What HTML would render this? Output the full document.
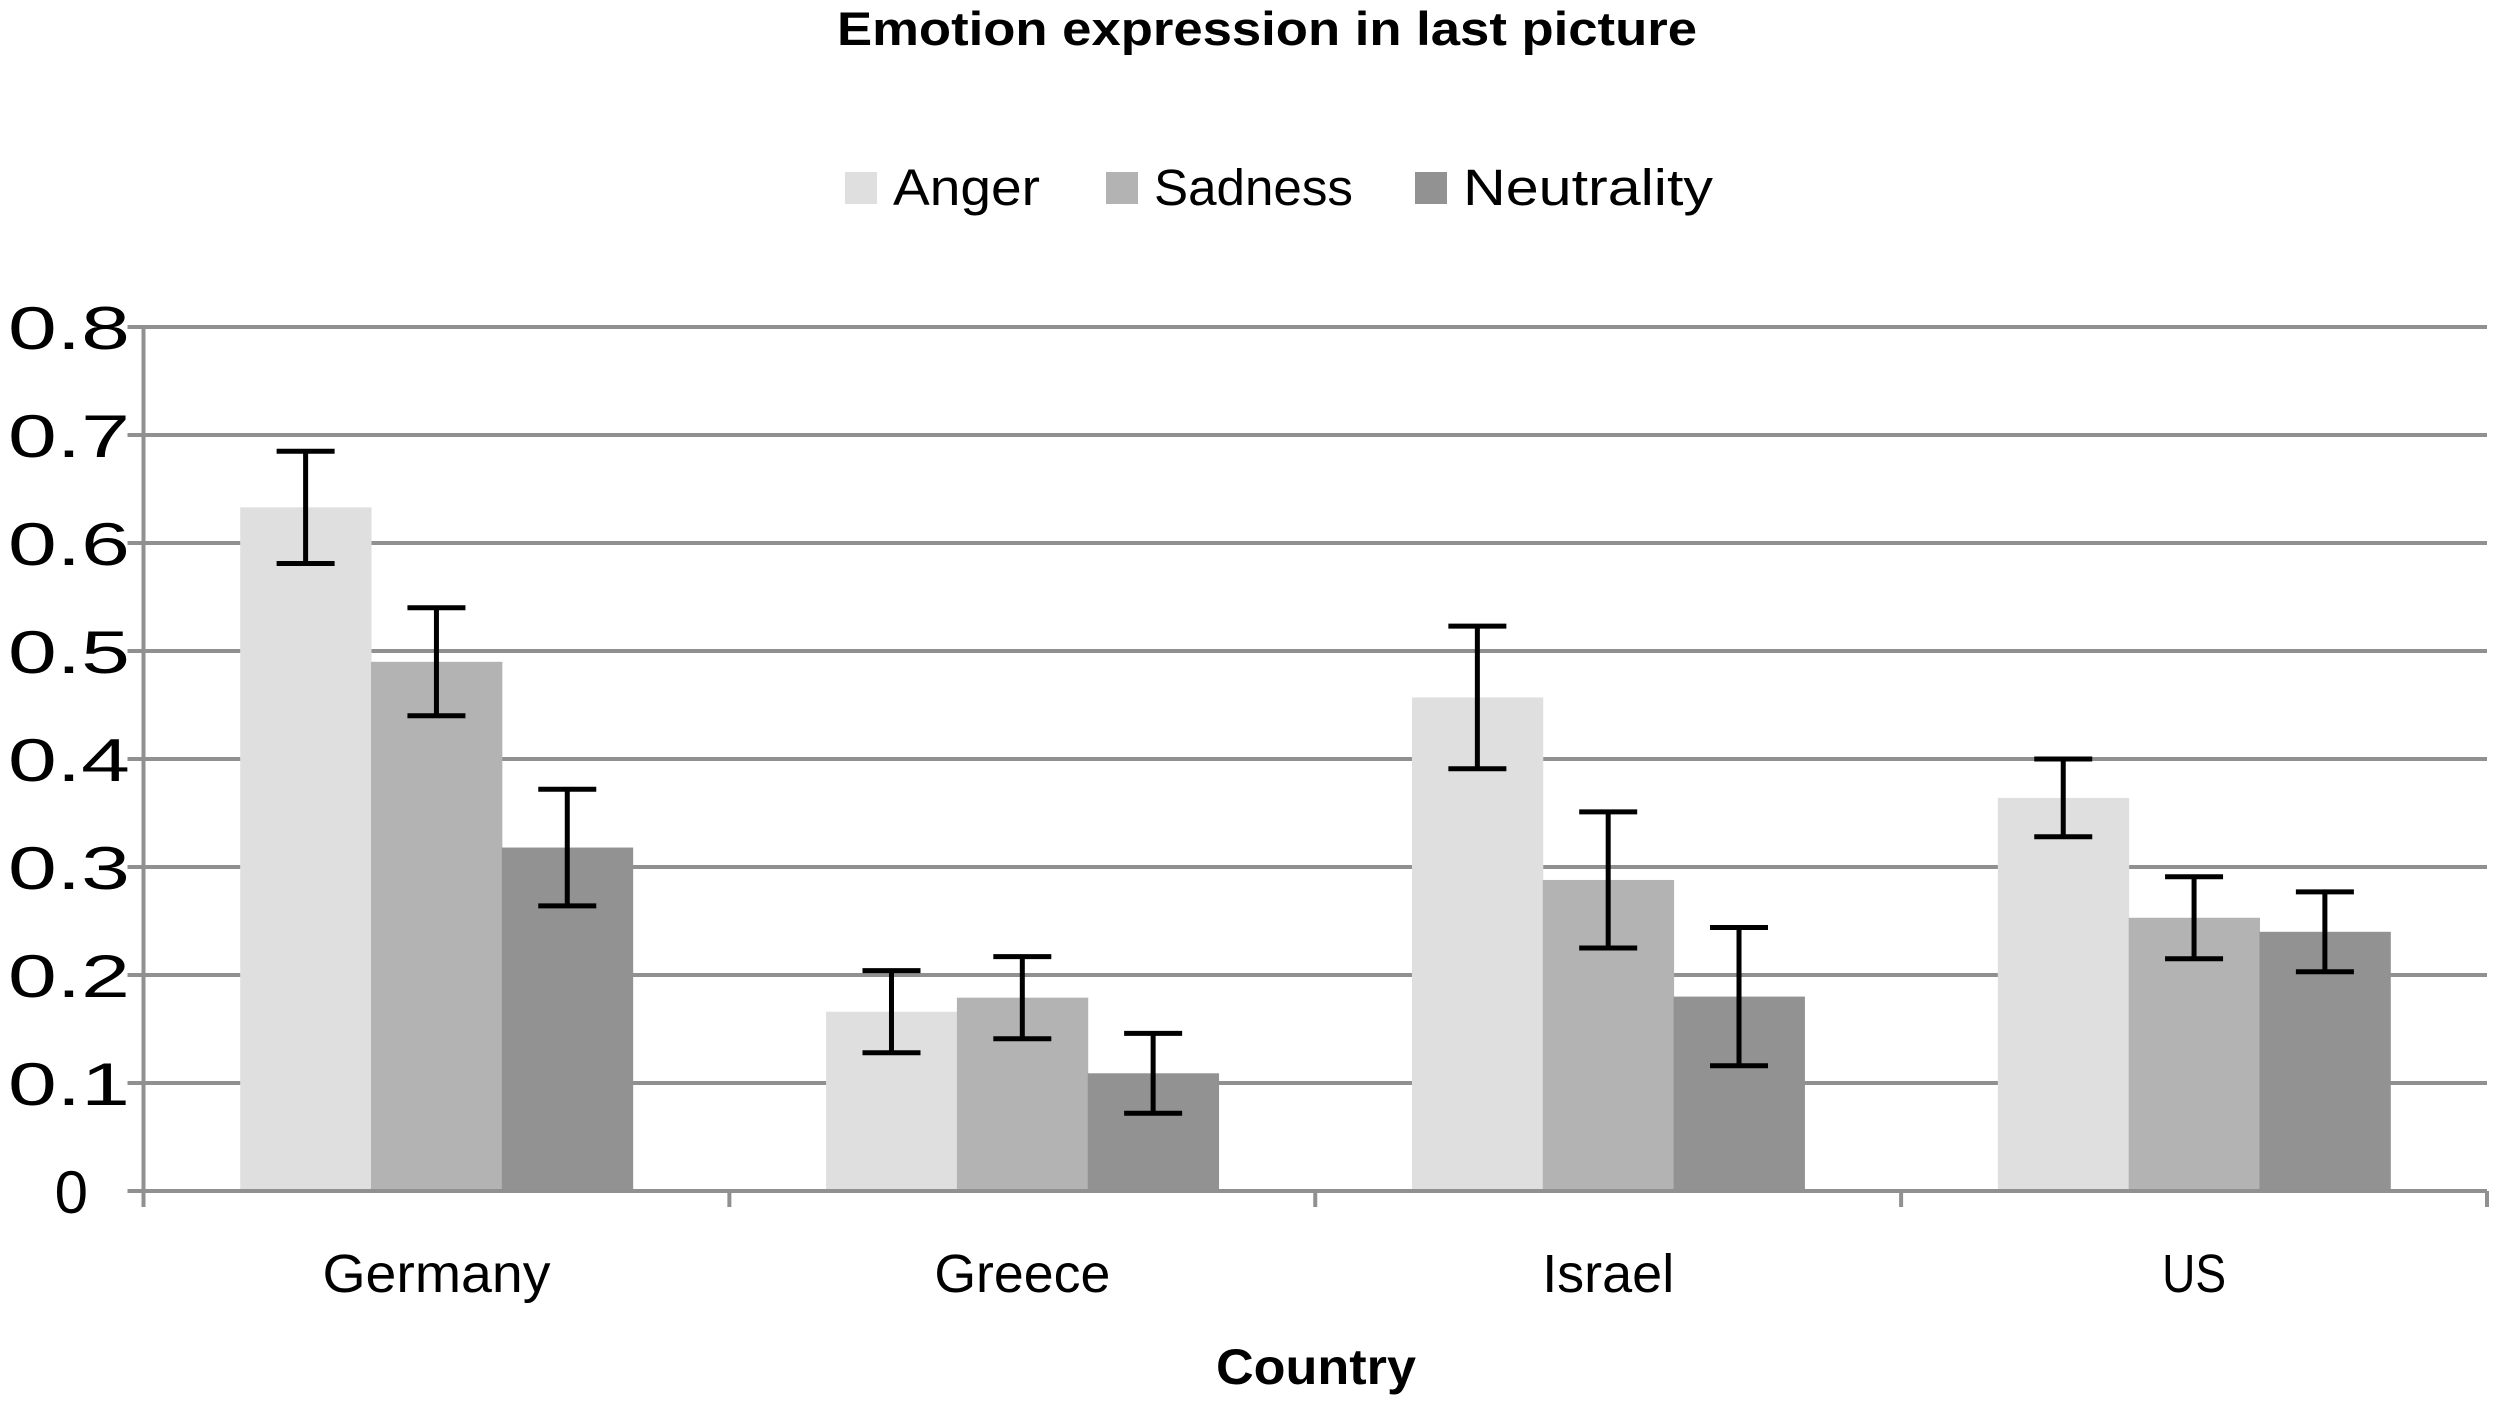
<!DOCTYPE html>
<html><head><meta charset="utf-8"><style>html,body{margin:0;padding:0;background:#fff}svg{display:block}</style></head>
<body>
<svg id="chart" width="2500" height="1408" viewBox="0 0 2500 1408" xmlns="http://www.w3.org/2000/svg" font-family="'Liberation Sans', sans-serif">
<text x="1267" y="45" text-anchor="middle" font-size="47" font-weight="bold" textLength="860" lengthAdjust="spacingAndGlyphs">Emotion expression in last picture</text>
<g id="legend"></g>
<g id="grid"></g>
<g id="bars"></g>
<g id="errs"></g>
<g id="axes"></g>
<text x="1316" y="1384" text-anchor="middle" font-size="50" font-weight="bold" textLength="200" lengthAdjust="spacingAndGlyphs">Country</text>
</svg>
<script>
const categories = ["Germany", "Greece", "Israel", "US"];
const seriesNames = ["Anger", "Sadness", "Neutrality"];
const anger = [0.633, 0.166, 0.457, 0.364];
const sadness = [0.490, 0.179, 0.288, 0.253];
const neutrality = [0.318, 0.109, 0.180, 0.240];
const angerErr = [0.052, 0.038, 0.066, 0.036];
const sadnessErr = [0.050, 0.038, 0.063, 0.038];
const neutralityErr = [0.054, 0.037, 0.064, 0.037];
const yTicks = [0, 0.1, 0.2, 0.3, 0.4, 0.5, 0.6, 0.7, 0.8];

const NS = "http://www.w3.org/2000/svg";
const colors = ["#dfdfdf", "#b3b3b3", "#929292"];
const series = [anger, sadness, neutrality];
const errs = [angerErr, sadnessErr, neutralityErr];
const catLabelW = [228, 176, 132, 64];
const L = 143.5, R = 2487, Y0 = 1191, Ymax = 327, vmax = 0.8;
const y = v => Y0 - (v / vmax) * (Y0 - Ymax);
const catW = (R - L) / categories.length;
const barW = catW * 0.2233;
const x = (ci, si) => L + ci * catW + (catW - 3 * barW) / 2 + si * barW;
function mk(tag, attrs, parent) {
  const e = document.createElementNS(NS, tag);
  for (const k in attrs) e.setAttribute(k, attrs[k]);
  parent.appendChild(e);
  return e;
}
const grid = document.getElementById("grid");
yTicks.forEach(t => {
  if (t > 0) {
    const g = mk("line", {x1: L - 16, x2: R, y1: y(t), y2: y(t), stroke: "#909090", "stroke-width": 4}, grid);
    
    
  }
  let attrs;
  if (t > 0) attrs = {x: 8, y: y(t) + 22, "font-size": 60, textLength: 122, lengthAdjust: "spacingAndGlyphs"};
  else attrs = {x: 88, y: y(t) + 22, "text-anchor": "end", "font-size": 60};
  const lb = mk("text", attrs, grid);
  lb.textContent = String(t);
  
  
});
const bars = document.getElementById("bars");
const eg = document.getElementById("errs");
categories.forEach((c, ci) => {
  series.forEach((s, si) => {
    const bx = x(ci, si);
    const r = mk("rect", {x: bx, y: y(s[ci]), width: barW + 0.5, height: Y0 - y(s[ci]), fill: colors[si]}, bars);
    
    
    const cx = bx + barW / 2, hi = y(s[ci] + errs[si][ci]), lo = y(s[ci] - errs[si][ci]);
    const eb = mk("path", {d: `M${cx - 29},${hi}H${cx + 29}M${cx},${hi}V${lo}M${cx - 29},${lo}H${cx + 29}`, stroke: "#000", "stroke-width": 5, fill: "none"}, eg);
    
    
  });
  const t = mk("text", {x: L + (ci + 0.5) * catW, y: 1292, "text-anchor": "middle", "font-size": 54, textLength: catLabelW[ci], lengthAdjust: "spacingAndGlyphs"}, bars);
  t.textContent = c;
  
  
});
const axes = document.getElementById("axes");
const ya = mk("line", {x1: L, x2: L, y1: Ymax, y2: Y0 + 16, stroke: "#909090", "stroke-width": 4}, axes);


const xa = mk("line", {x1: L - 16, x2: R, y1: Y0, y2: Y0, stroke: "#909090", "stroke-width": 4}, axes);


for (let i = 1; i <= categories.length; i++) {
  const tk = mk("line", {x1: L + i * catW, x2: L + i * catW, y1: Y0, y2: Y0 + 16, stroke: "#909090", "stroke-width": 4}, axes);
  
  
}
const leg = document.getElementById("legend");
const legX = [845, 1106, 1415], legW = [147, 199, 250];
seriesNames.forEach((n, i) => {
  const sw = mk("rect", {x: legX[i], y: 172, width: 32, height: 32, fill: colors[i]}, leg);
  
  
  const t = mk("text", {x: legX[i] + 48, y: 205, "font-size": 51, textLength: legW[i], lengthAdjust: "spacingAndGlyphs"}, leg);
  t.textContent = n;
  
  
});
</script>
</body></html>
